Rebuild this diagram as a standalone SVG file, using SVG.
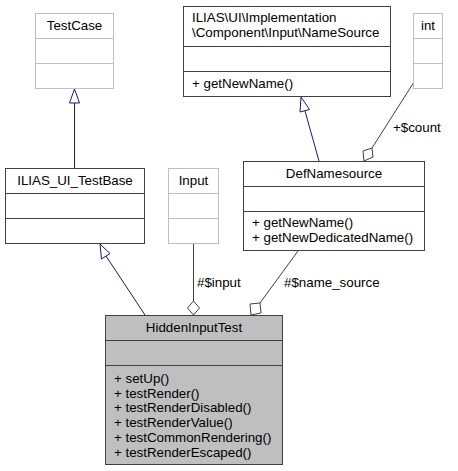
<svg xmlns="http://www.w3.org/2000/svg" width="458" height="471" viewBox="0 0 458 471">
<style>
text{font-family:"Liberation Sans",Arial,sans-serif;font-size:13.33px;fill:#000}
.c{text-anchor:middle}
.box{fill:#fff;stroke:#404040;stroke-width:1}
.gbox{fill:#fff;stroke:#bfbfbf;stroke-width:1}
.cur{fill:#bfbfbf;stroke:#404040;stroke-width:1}
.inh{stroke:#191970;fill:none;stroke-width:1}
.inhh{stroke:#191970;fill:#fff;stroke-width:1}
.comp{stroke:#404040;fill:none;stroke-width:1}
.comph{stroke:#404040;fill:#fff;stroke-width:1}
</style>
<rect width="458" height="471" fill="#fff"/>
<g id="connectors">
<path class="inh" d="M74.5,168 V103"/>
<polygon class="inhh" points="74.5,89 69.5,103 79.5,103"/>
<path class="inh" d="M145,315 L106,256"/>
<polygon class="inhh" points="100,244 101.5,259 110,253.5"/>
<path class="inh" d="M319,161 L305,111"/>
<polygon class="inhh" points="301,97 300,112 309.5,109.5"/>
<path class="comp" d="M193.5,244 V301"/>
<polygon class="comph" points="193.5,315 187.5,308 193.5,301 199.5,308"/>
<text x="197" y="287">#$input</text>
<path class="comp" d="M298,251 L260,303"/>
<polygon class="comph" points="251,315 250,304 260,303 261,313"/>
<text x="284" y="287">#$name_source</text>
<path class="comp" d="M414,82 L372,148"/>
<polygon class="comph" points="364,161 363,151 372,148 373,157"/>
<text x="393" y="132">+$count</text>
</g>
<g id="TestCase">
<rect class="gbox" x="35.5" y="13.5" width="78" height="75"/>
<path class="gbox" d="M35.5,38.5 H113.5 M35.5,63.5 H113.5"/>
<text class="c" x="74.5" y="30">TestCase</text>
</g>
<g id="NameSource">
<rect class="box" x="183.5" y="6.5" width="207" height="90"/>
<path class="box" d="M183.5,46.5 H390.5 M183.5,71.5 H390.5"/>
<text x="192" y="22">ILIAS\UI\Implementation</text>
<text x="192" y="37">\Component\Input\NameSource</text>
<text x="192" y="88">+ getNewName()</text>
</g>
<g id="int">
<rect class="gbox" x="413.5" y="13.5" width="29" height="75"/>
<path class="gbox" d="M413.5,38.5 H442.5 M413.5,63.5 H442.5"/>
<text class="c" x="428" y="30">int</text>
</g>
<g id="ILIAS_UI_TestBase">
<rect class="box" x="5.5" y="168.5" width="139" height="75"/>
<path class="box" d="M5.5,193.5 H144.5 M5.5,218.5 H144.5"/>
<text class="c" x="75" y="185">ILIAS_UI_TestBase</text>
</g>
<g id="Input">
<rect class="gbox" x="168.5" y="168.5" width="50" height="75"/>
<path class="gbox" d="M168.5,193.5 H218.5 M168.5,218.5 H218.5"/>
<text class="c" x="193.5" y="185">Input</text>
</g>
<g id="DefNamesource">
<rect class="box" x="243.5" y="161.5" width="181" height="89"/>
<path class="box" d="M243.5,186.5 H424.5 M243.5,211.5 H424.5"/>
<text class="c" x="334" y="178">DefNamesource</text>
<text x="252" y="227">+ getNewName()</text>
<text x="252" y="242">+ getNewDedicatedName()</text>
</g>
<g id="HiddenInputTest">
<rect class="cur" x="105.5" y="315.5" width="177" height="149"/>
<path class="cur" d="M105.5,340.5 H282.5 M105.5,365.5 H282.5"/>
<text class="c" x="194" y="332">HiddenInputTest</text>
<text x="114" y="383">+ setUp()</text>
<text x="114" y="398">+ testRender()</text>
<text x="114" y="412">+ testRenderDisabled()</text>
<text x="114" y="427">+ testRenderValue()</text>
<text x="114" y="442">+ testCommonRendering()</text>
<text x="114" y="457">+ testRenderEscaped()</text>
</g>
</svg>
